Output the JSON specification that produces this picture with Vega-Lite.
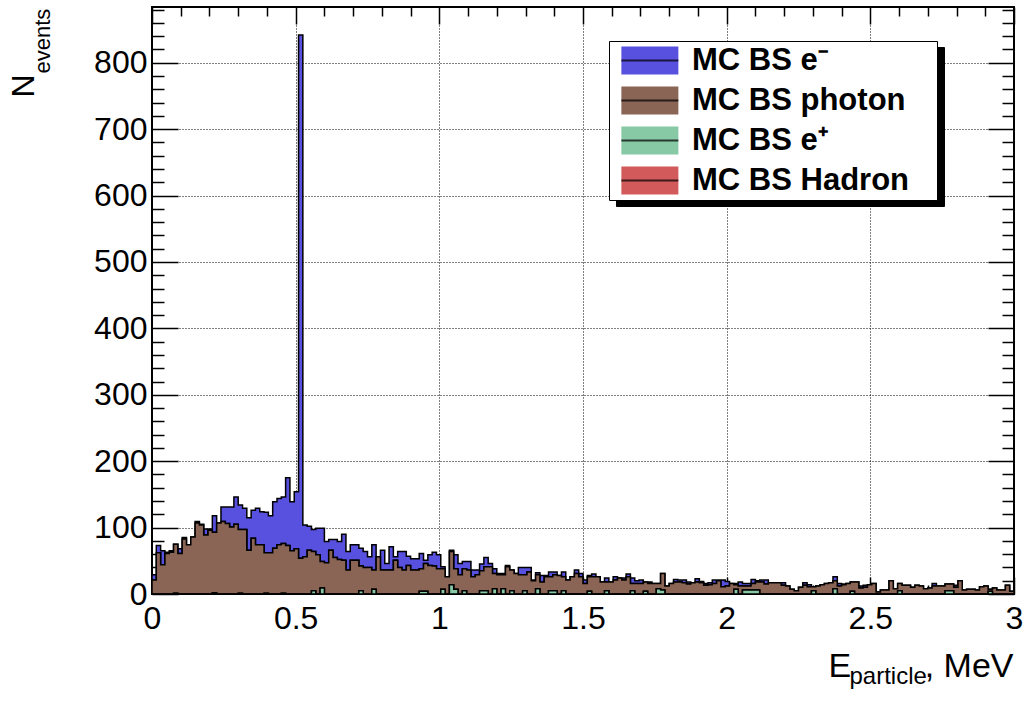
{
  "$schema": "https://vega.github.io/schema/vega-lite/v6.json",
  "width": 862,
  "height": 587,
  "autosize": "none",
  "padding": {"left": 152, "top": 7, "right": 14, "bottom": 101},
  "background": "white",
  "config": {
    "view": {"stroke": "black", "strokeWidth": 2},
    "font": "Liberation Sans",
    "axis": {
      "labelFont": "Liberation Sans", "titleFont": "Liberation Sans",
      "labelColor": "black", "titleColor": "black", "titleFontWeight": "normal",
      "tickColor": "black", "tickWidth": 1.5, "domain": false,
      "labelFlush": false, "labelOverlap": false,
      "gridColor": "#000", "gridDash": [1, 2], "gridWidth": 1
    },
    "legend": {
      "orient": "none",
      "labelFont": "Liberation Sans", "labelFontSize": 31, "labelFontWeight": "bold",
      "labelColor": "black", "labelLimit": 400,
      "padding": 4, "symbolSize": 812
    }
  },
  "data": {"values": [
    {"E":0,"ele":8,"pho":21,"pos":0},{"E":0.015,"ele":11,"pho":62,"pos":0},{"E":0.03,"ele":21,"pho":44,"pos":0},{"E":0.045,"ele":2,"pho":61,"pos":0},
    {"E":0.06,"ele":2,"pho":63,"pos":0},{"E":0.075,"ele":0,"pho":74,"pos":1},{"E":0.09,"ele":7,"pho":61,"pos":0},{"E":0.105,"ele":2,"pho":83,"pos":0},
    {"E":0.12,"ele":0,"pho":74,"pos":0},{"E":0.135,"ele":0,"pho":86,"pos":0},{"E":0.15,"ele":2,"pho":107,"pos":0},{"E":0.165,"ele":1,"pho":104,"pos":0},
    {"E":0.18,"ele":9,"pho":89,"pos":0},{"E":0.195,"ele":2,"pho":96,"pos":0},{"E":0.21,"ele":25,"pho":91,"pos":2},{"E":0.225,"ele":0,"pho":107,"pos":0},
    {"E":0.24,"ele":22,"pho":109,"pos":0},{"E":0.255,"ele":25,"pho":106,"pos":0},{"E":0.27,"ele":30,"pho":101,"pos":0},{"E":0.285,"ele":41,"pho":105,"pos":0},
    {"E":0.3,"ele":37,"pho":96,"pos":1},{"E":0.315,"ele":32,"pho":97,"pos":0},{"E":0.33,"ele":49,"pho":66,"pos":0},{"E":0.345,"ele":42,"pho":84,"pos":0},
    {"E":0.36,"ele":55,"pho":74,"pos":0},{"E":0.375,"ele":50,"pho":74,"pos":0},{"E":0.39,"ele":61,"pho":61,"pos":1},{"E":0.405,"ele":56,"pho":62,"pos":0},
    {"E":0.42,"ele":70,"pho":69,"pos":0},{"E":0.435,"ele":70,"pho":74,"pos":0},{"E":0.45,"ele":70,"pho":75,"pos":1},{"E":0.465,"ele":102,"pho":73,"pos":0},
    {"E":0.48,"ele":74,"pho":65,"pos":0},{"E":0.495,"ele":86,"pho":68,"pos":0},{"E":0.51,"ele":788,"pho":54,"pos":0},{"E":0.525,"ele":48,"pho":56,"pos":0},
    {"E":0.54,"ele":36,"pho":66,"pos":0},{"E":0.555,"ele":33,"pho":59,"pos":5},{"E":0.57,"ele":40,"pho":59,"pos":0},{"E":0.585,"ele":50,"pho":40,"pos":9},
    {"E":0.6,"ele":32,"pho":47,"pos":0},{"E":0.615,"ele":16,"pho":66,"pos":0},{"E":0.63,"ele":27,"pho":55,"pos":0},{"E":0.645,"ele":27,"pho":52,"pos":0},
    {"E":0.66,"ele":39,"pho":51,"pos":0},{"E":0.675,"ele":28,"pho":36,"pos":0},{"E":0.69,"ele":23,"pho":51,"pos":0},{"E":0.705,"ele":23,"pho":51,"pos":0},
    {"E":0.72,"ele":27,"pho":37,"pos":5},{"E":0.735,"ele":24,"pho":40,"pos":0},{"E":0.75,"ele":16,"pho":40,"pos":0},{"E":0.765,"ele":38,"pho":29,"pos":7},
    {"E":0.78,"ele":0,"pho":56,"pos":0},{"E":0.795,"ele":30,"pho":36,"pos":0},{"E":0.81,"ele":10,"pho":36,"pos":0},{"E":0.825,"ele":35,"pho":36,"pos":0},
    {"E":0.84,"ele":5,"pho":51,"pos":0},{"E":0.855,"ele":24,"pho":40,"pos":0},{"E":0.87,"ele":28,"pho":36,"pos":0},{"E":0.885,"ele":14,"pho":43,"pos":0},
    {"E":0.9,"ele":17,"pho":36,"pos":0},{"E":0.915,"ele":17,"pho":36,"pos":0},{"E":0.93,"ele":23,"pho":34,"pos":4},{"E":0.945,"ele":5,"pho":42,"pos":4},
    {"E":0.96,"ele":16,"pho":43,"pos":0},{"E":0.975,"ele":21,"pho":42,"pos":0},{"E":0.99,"ele":21,"pho":38,"pos":0},{"E":1.005,"ele":3,"pho":31,"pos":7},
    {"E":1.02,"ele":0,"pho":26,"pos":0},{"E":1.035,"ele":2,"pho":50,"pos":14},{"E":1.05,"ele":21,"pho":31,"pos":7},{"E":1.065,"ele":17,"pho":29,"pos":0},
    {"E":1.08,"ele":11,"pho":33,"pos":5},{"E":1.095,"ele":13,"pho":36,"pos":0},{"E":1.11,"ele":10,"pho":26,"pos":0},{"E":1.125,"ele":7,"pho":29,"pos":0},
    {"E":1.14,"ele":10,"pho":30,"pos":5},{"E":1.155,"ele":14,"pho":36,"pos":5},{"E":1.17,"ele":5,"pho":41,"pos":0},{"E":1.185,"ele":7,"pho":23,"pos":8},
    {"E":1.2,"ele":2,"pho":29,"pos":0},{"E":1.215,"ele":2,"pho":21,"pos":8},{"E":1.23,"ele":2,"pho":41,"pos":0},{"E":1.245,"ele":0,"pho":31,"pos":5},
    {"E":1.26,"ele":0,"pho":31,"pos":0},{"E":1.275,"ele":11,"pho":29,"pos":0},{"E":1.29,"ele":11,"pho":24,"pos":5},{"E":1.305,"ele":7,"pho":33,"pos":0},
    {"E":1.32,"ele":1,"pho":20,"pos":0},{"E":1.335,"ele":3,"pho":21,"pos":8},{"E":1.35,"ele":10,"pho":18,"pos":0},{"E":1.365,"ele":2,"pho":26,"pos":0},
    {"E":1.38,"ele":7,"pho":21,"pos":5},{"E":1.395,"ele":4,"pho":24,"pos":5},{"E":1.41,"ele":0,"pho":28,"pos":0},{"E":1.425,"ele":7,"pho":21,"pos":5},
    {"E":1.44,"ele":0,"pho":21,"pos":0},{"E":1.455,"ele":0,"pho":26,"pos":0},{"E":1.47,"ele":5,"pho":31,"pos":0},{"E":1.485,"ele":5,"pho":26,"pos":0},
    {"E":1.5,"ele":5,"pho":16,"pos":0},{"E":1.515,"ele":2,"pho":22,"pos":4},{"E":1.53,"ele":4,"pho":26,"pos":0},{"E":1.545,"ele":0,"pho":26,"pos":0},
    {"E":1.56,"ele":0,"pho":18,"pos":0},{"E":1.575,"ele":6,"pho":13,"pos":5},{"E":1.59,"ele":0,"pho":18,"pos":0},{"E":1.605,"ele":5,"pho":21,"pos":0},
    {"E":1.62,"ele":0,"pho":24,"pos":0},{"E":1.635,"ele":3,"pho":21,"pos":0},{"E":1.65,"ele":4,"pho":26,"pos":0},{"E":1.665,"ele":8,"pho":11,"pos":5},
    {"E":1.68,"ele":4,"pho":16,"pos":0},{"E":1.695,"ele":5,"pho":16,"pos":0},{"E":1.71,"ele":0,"pho":14,"pos":4},{"E":1.725,"ele":2,"pho":16,"pos":0},
    {"E":1.74,"ele":0,"pho":16,"pos":0},{"E":1.755,"ele":0,"pho":8,"pos":8},{"E":1.77,"ele":0,"pho":25,"pos":6},{"E":1.785,"ele":0,"pho":12,"pos":0},
    {"E":1.8,"ele":0,"pho":16,"pos":0},{"E":1.815,"ele":4,"pho":18,"pos":0},{"E":1.83,"ele":3,"pho":18,"pos":0},{"E":1.845,"ele":4,"pho":17,"pos":0},
    {"E":1.86,"ele":3,"pho":15,"pos":0},{"E":1.875,"ele":0,"pho":17,"pos":0},{"E":1.89,"ele":5,"pho":18,"pos":0},{"E":1.905,"ele":2,"pho":17,"pos":0},
    {"E":1.92,"ele":3,"pho":13,"pos":0},{"E":1.935,"ele":3,"pho":14,"pos":0},{"E":1.95,"ele":5,"pho":16,"pos":0},{"E":1.965,"ele":1,"pho":20,"pos":0},
    {"E":1.98,"ele":10,"pho":11,"pos":0},{"E":1.995,"ele":7,"pho":12,"pos":0},{"E":2.01,"ele":0,"pho":16,"pos":0},{"E":2.025,"ele":2,"pho":7,"pos":7},
    {"E":2.04,"ele":6,"pho":12,"pos":0},{"E":2.055,"ele":4,"pho":6,"pos":6},{"E":2.07,"ele":4,"pho":6,"pos":6},{"E":2.085,"ele":6,"pho":10,"pos":6},
    {"E":2.1,"ele":2,"pho":12,"pos":6},{"E":2.115,"ele":3,"pho":18,"pos":0},{"E":2.13,"ele":6,"pho":15,"pos":0},{"E":2.145,"ele":0,"pho":17,"pos":0},
    {"E":2.16,"ele":0,"pho":17,"pos":0},{"E":2.175,"ele":0,"pho":17,"pos":0},{"E":2.19,"ele":4,"pho":13,"pos":0},{"E":2.205,"ele":0,"pho":12,"pos":0},
    {"E":2.22,"ele":0,"pho":7,"pos":0},{"E":2.235,"ele":0,"pho":5,"pos":0},{"E":2.25,"ele":0,"pho":10,"pos":0},{"E":2.265,"ele":4,"pho":13,"pos":0},
    {"E":2.28,"ele":3,"pho":11,"pos":0},{"E":2.295,"ele":0,"pho":6,"pos":5},{"E":2.31,"ele":0,"pho":12,"pos":0},{"E":2.325,"ele":0,"pho":14,"pos":0},
    {"E":2.34,"ele":0,"pho":16,"pos":0},{"E":2.355,"ele":0,"pho":17,"pos":0},{"E":2.37,"ele":6,"pho":12,"pos":8},{"E":2.385,"ele":4,"pho":12,"pos":0},
    {"E":2.4,"ele":1,"pho":14,"pos":0},{"E":2.415,"ele":0,"pho":16,"pos":0},{"E":2.43,"ele":0,"pho":14,"pos":4},{"E":2.445,"ele":0,"pho":18,"pos":0},
    {"E":2.46,"ele":3,"pho":9,"pos":0},{"E":2.475,"ele":3,"pho":10,"pos":0},{"E":2.49,"ele":0,"pho":14,"pos":0},{"E":2.505,"ele":0,"pho":16,"pos":0},
    {"E":2.52,"ele":0,"pho":3,"pos":0},{"E":2.535,"ele":0,"pho":6,"pos":0},{"E":2.55,"ele":0,"pho":6,"pos":0},{"E":2.565,"ele":0,"pho":20,"pos":0},
    {"E":2.58,"ele":0,"pho":8,"pos":0},{"E":2.595,"ele":0,"pho":11,"pos":5},{"E":2.61,"ele":0,"pho":13,"pos":0},{"E":2.625,"ele":0,"pho":13,"pos":0},
    {"E":2.64,"ele":0,"pho":10,"pos":0},{"E":2.655,"ele":0,"pho":13,"pos":0},{"E":2.67,"ele":0,"pho":12,"pos":0},{"E":2.685,"ele":0,"pho":8,"pos":0},
    {"E":2.7,"ele":0,"pho":9,"pos":0},{"E":2.715,"ele":4,"pho":12,"pos":0},{"E":2.73,"ele":0,"pho":12,"pos":0},{"E":2.745,"ele":0,"pho":12,"pos":0},
    {"E":2.76,"ele":0,"pho":10,"pos":5},{"E":2.775,"ele":0,"pho":10,"pos":5},{"E":2.79,"ele":3,"pho":10,"pos":0},{"E":2.805,"ele":0,"pho":20,"pos":0},
    {"E":2.82,"ele":0,"pho":6,"pos":0},{"E":2.835,"ele":0,"pho":7,"pos":0},{"E":2.85,"ele":0,"pho":7,"pos":0},{"E":2.865,"ele":0,"pho":6,"pos":0},
    {"E":2.88,"ele":0,"pho":11,"pos":0},{"E":2.895,"ele":0,"pho":12,"pos":0},{"E":2.91,"ele":0,"pho":3,"pos":4},{"E":2.925,"ele":0,"pho":9,"pos":0},
    {"E":2.94,"ele":0,"pho":6,"pos":0},{"E":2.955,"ele":0,"pho":6,"pos":0},{"E":2.97,"ele":0,"pho":13,"pos":0},{"E":2.985,"ele":0,"pho":4,"pos":0},
    {"E":3,"ele":0,"pho":4,"pos":0}
  ]},
  "transform": [{"fold": ["ele", "pho", "pos"], "as": ["particle", "n"]}],
  "layer": [
    {
      "mark": {"type": "area", "interpolate": "step-after", "stroke": "black", "strokeWidth": 1.5, "opacity": 1, "clip": true},
      "encoding": {
        "x": {
          "field": "E", "type": "quantitative",
          "scale": {"domain": [0, 3], "nice": false, "zero": false},
          "axis": {
            "orient": "bottom",
            "values": [0,0.1,0.2,0.3,0.4,0.5,0.6,0.7,0.8,0.9,1,1.1,1.2,1.3,1.4,1.5,1.6,1.7,1.8,1.9,2,2.1,2.2,2.3,2.4,2.5,2.6,2.7,2.8,2.9,3],
            "format": "~g",
            "labelExpr": "abs(datum.value*2-round(datum.value*2))<0.001 ? datum.label : ''",
            "tickSize": {"condition": {"test": "abs(datum.value*2-round(datum.value*2))<0.001", "value": -17}, "value": -9},
            "grid": true,
            "gridOpacity": {"condition": {"test": "abs(datum.value*2-round(datum.value*2))<0.001", "value": 1}, "value": 0},
            "labelFontSize": 32, "labelPadding": 26, "labelBaseline": "top",
            "title": "E",
            "titleFontSize": 34, "titleX": 676, "titleY": 82, "titleAlign": "left", "titleBaseline": "alphabetic"
          }
        },
        "y": {
          "field": "n", "type": "quantitative", "stack": "zero",
          "scale": {"domain": [0, 884], "nice": false},
          "axis": {
            "orient": "left",
            "values": [0,20,40,60,80,100,120,140,160,180,200,220,240,260,280,300,320,340,360,380,400,420,440,460,480,500,520,540,560,580,600,620,640,660,680,700,720,740,760,780,800,820,840,860,880],
            "format": "d",
            "labelExpr": "datum.value % 100 === 0 ? datum.label : ''",
            "tickSize": {"condition": {"test": "datum.value % 100 === 0", "value": -26}, "value": -12},
            "grid": true,
            "gridOpacity": {"condition": {"test": "datum.value % 100 === 0", "value": 1}, "value": 0},
            "labelFontSize": 32, "labelPadding": 31, "labelAlign": "right", "labelBaseline": "middle",
            "title": "N",
            "titleFontSize": 32, "titleAngle": 270, "titleX": -119, "titleY": 90, "titleAlign": "left", "titleBaseline": "alphabetic"
          }
        },
        "color": {
          "field": "particle", "type": "nominal",
          "scale": {"domain": ["ele", "pho", "pos", "had"], "range": ["#5850de", "#8a6455", "#87c8a5", "#d25a5a"]},
          "legend": {
            "title": null,
            "labelExpr": "{'ele':'MC BS e⁻','pho':'MC BS photon','pos':'MC BS e⁺','had':'MC BS Hadron'}[datum.label] + '\u00a0\u00a0\u2009\u200b'",
            "legendX": 457, "legendY": 34, "zindex": 1,
            "fillColor": "white", "strokeColor": "black",
            "rowPadding": 8, "labelOffset": 48,
            "symbolType": "M-0.5,-0.98H3.5V0.98H-0.5Z",
            "symbolStrokeWidth": 0, "symbolOpacity": 1
          }
        },
        "order": {"field": "particle", "sort": "descending"}
      }
    },
    {
      "transform": [{"filter": "datum.n < 0"}],
      "mark": {"type": "point", "filled": false, "stroke": "black", "strokeWidth": 1.5},
      "encoding": {
        "x": {
          "field": "E", "type": "quantitative",
          "scale": {"domain": [0, 3], "nice": false, "zero": false},
          "axis": {
            "orient": "top",
            "values": [0,0.1,0.2,0.3,0.4,0.5,0.6,0.7,0.8,0.9,1,1.1,1.2,1.3,1.4,1.5,1.6,1.7,1.8,1.9,2,2.1,2.2,2.3,2.4,2.5,2.6,2.7,2.8,2.9,3],
            "labels": false, "grid": false,
            "tickSize": {"condition": {"test": "abs(datum.value*2-round(datum.value*2))<0.001", "value": -17}, "value": -9},
            "title": "particle",
            "titleFontSize": 24, "titleX": 697, "titleY": 676, "titleAlign": "left", "titleBaseline": "alphabetic"
          }
        },
        "y": {
          "field": "n", "type": "quantitative",
          "scale": {"domain": [0, 884], "nice": false},
          "axis": {
            "orient": "right",
            "values": [0,20,40,60,80,100,120,140,160,180,200,220,240,260,280,300,320,340,360,380,400,420,440,460,480,500,520,540,560,580,600,620,640,660,680,700,720,740,760,780,800,820,840,860,880],
            "labels": false, "grid": false,
            "tickSize": {"condition": {"test": "datum.value % 100 === 0", "value": -26}, "value": -12},
            "title": "events",
            "titleFontSize": 22, "titleAngle": 270, "titleX": -965, "titleY": 66, "titleAlign": "left", "titleBaseline": "alphabetic"
          }
        },
        "shape": {
          "field": "particle", "type": "nominal",
          "scale": {"domain": ["pho", "ele", "pos", "had"], "range": ["M-0.5,0H3.5", "M-0.5,0H3.5", "M-0.5,0H3.5", "M-0.5,0H3.5"]},
          "legend": {
            "title": null,
            "labelExpr": "''",
            "labelOffset": 48,
            "legendX": 457, "legendY": 34, "zindex": 2,
            "rowPadding": 8,
            "symbolStrokeColor": "black", "symbolStrokeWidth": 2, "symbolFillColor": "transparent"
          }
        },
        "strokeDash": {
          "field": "particle", "type": "nominal",
          "scale": {"domain": ["pos", "ele", "pho", "had"]},
          "legend": {
            "title": null,
            "labelExpr": "''",
            "labelFontSize": 1, "labelOffset": 0,
            "legendX": 464, "legendY": 40, "zindex": 0,
            "fillColor": "black", "strokeColor": "black",
            "rowPadding": 0,
            "symbolType": "M-1,-1.316H21.386V1.316H-1Z",
            "symbolStrokeColor": "black", "symbolFillColor": "black", "symbolStrokeWidth": 0
          }
        }
      }
    },
    {
      "transform": [{"filter": "datum.n < 0"}],
      "mark": {"type": "point", "filled": false, "stroke": "black"},
      "encoding": {
        "x": {
          "field": "E", "type": "quantitative",
          "scale": {"domain": [0, 3], "nice": false, "zero": false},
          "axis": {
            "orient": "bottom", "labels": false, "ticks": false, "grid": false, "domain": false,
            "title": ", MeV",
            "titleFontSize": 34, "titleX": 861, "titleY": 82, "titleAlign": "right", "titleBaseline": "alphabetic"
          }
        },
        "y": {
          "field": "n", "type": "quantitative",
          "scale": {"domain": [0, 884], "nice": false},
          "axis": null
        }
      }
    }
  ],
  "resolve": {"axis": {"x": "independent", "y": "independent"}}
}
